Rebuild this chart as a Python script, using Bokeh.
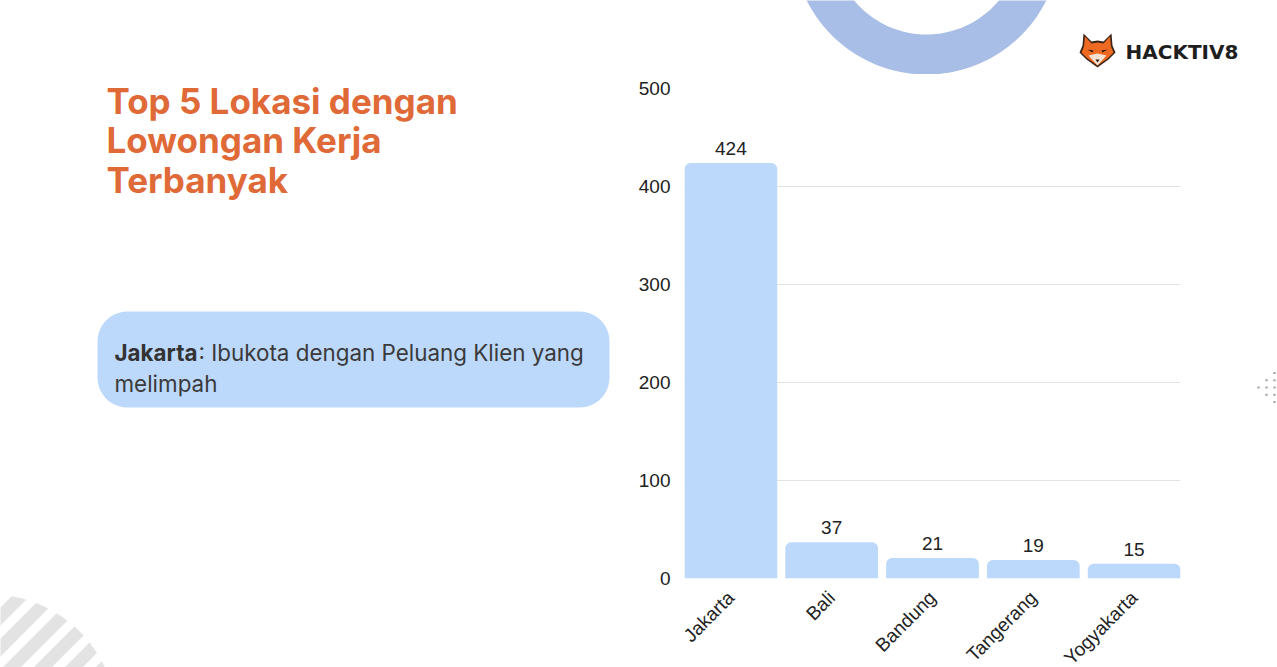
import numpy as np
from bokeh.plotting import figure
from bokeh.layouts import row, column
from bokeh.models import (Range1d, LinearAxis, FixedTicker, ColumnDataSource,
                          LabelSet, Grid)
from bokeh.core.properties import value
from bokeh.embed import file_html
from bokeh.resources import INLINE

# ---- data ----
categories = ["Jakarta", "Bali", "Bandung", "Tangerang", "Yogyakarta"]
values = [424, 37, 21, 19, 15]
y_ticks = [0, 100, 200, 300, 400, 500]
title_lines = ["Top 5 Lokasi dengan", "Lowongan Kerja", "Terbanyak"]
note_bold = "Jakarta"
note_line1 = ": Ibukota dengan Peluang Klien yang"
note_line2 = "melimpah"
brand = "HACKTIV8"

# ---- layout (pixels) ----
W, H = 1277, 667
SPLIT = 620          # left panel width
TOP = 74             # top strip height (right side)
DOTX = 1240          # start of dots strip
FL, FR, FT, FB = 684, 1180, 88, 578
BAR = "#BCD8FB"
ORANGE = "#DF6A38"


def blank(x0, x1, y0, y1):
    f = figure(width=x1 - x0, height=y1 - y0, x_range=Range1d(x0, x1),
               y_range=Range1d(y1, y0), min_border=0,
               x_axis_location=None, y_axis_location=None,
               output_backend="svg", toolbar_location=None)
    f.grid.visible = False
    f.outline_line_color = None
    f.background_fill_color = "white"
    f.border_fill_color = "white"
    return f


def poly(f, xs, ys, color):
    f.patch(list(map(float, xs)), list(map(float, ys)), fill_color=color,
            line_color=None)


def label(f, x, y, text, size, color, bold=False, font="Inter"):
    f.text(x=[x], y=[y], text=[text], text_font=value(font), text_font_size=size,
           text_font_style="bold" if bold else "normal", text_color=color,
           text_baseline="alphabetic", text_align="left")


# ================= left panel =================
left = blank(0, SPLIT, 0, H)

# striped quarter circle bottom-left
s2 = np.sqrt(2)
scx, scy, sR = -10, 720, 126
u0, v0 = (scx + scy) / s2, (scx - scy) / s2
for k in range(-1, 8):
    a, b = (607 + 31 * k) / s2, (625 + 31 * k) / s2
    a, b = max(a, u0 - sR), min(b, u0 + sR)
    if b <= a:
        continue
    us = np.linspace(a, b, 30)
    h = np.sqrt(np.maximum(sR ** 2 - (us - u0) ** 2, 0))
    U = np.concatenate([us, us[::-1]])
    V = np.concatenate([v0 + h, (v0 - h)[::-1]])
    poly(left, (U + V) / s2, (U - V) / s2, "#E3E3E3")

# rounded note box
bx0, bx1, by0, by1, r = 97, 609, 311, 407, 30
pts = []
for (ccx, ccy, a0) in [(bx1 - r, by0 + r, -np.pi / 2), (bx1 - r, by1 - r, 0),
                       (bx0 + r, by1 - r, np.pi / 2), (bx0 + r, by0 + r, np.pi)]:
    for a in np.linspace(a0, a0 + np.pi / 2, 12):
        pts.append((ccx + r * np.cos(a), ccy + r * np.sin(a)))
poly(left, [q[0] for q in pts], [q[1] for q in pts], BAR)

for i, line in enumerate(title_lines):
    label(left, 106, 100 + 39.5 * i, line, "35px", ORANGE, bold=True)

label(left, 114, 351.5, note_bold, "22.4px", "#333333", bold=True)
label(left, 198, 351.5, note_line1, "22.4px", "#3A3A3A")
label(left, 114, 382.5, note_line2, "22.4px", "#3A3A3A")

# ================= top strip (right) =================
top = blank(SPLIT, W, 0, TOP)
t = np.linspace(0, 2 * np.pi, 180)
cx, cy, ro, ri = 926, -60, 134, 94
xs = np.concatenate([cx + ro * np.cos(t), cx + ri * np.cos(t[::-1])])
ys = np.concatenate([cy + ro * np.sin(t), cy + ri * np.sin(t[::-1])])
poly(top, xs, ys, "#A9BEE7")

# fox logo
poly(top, [1083, 1091, 1097, 1103, 1111, 1112, 1115, 1108, 1097, 1086, 1079, 1082],
     [33, 41, 40, 41, 33, 45, 52, 59, 67, 59, 52, 45], "#3A2416")
poly(top, [1084.5, 1091, 1097, 1103, 1109.5, 1110.5, 1113, 1107, 1097, 1087, 1081, 1083.5],
     [36, 43, 42, 43, 36, 46, 52, 58, 65, 58, 52, 46], "#EE6A22")
poly(top, [1088, 1097, 1106, 1097], [55, 53, 55, 65], "#F6E2D2")
poly(top, [1087, 1093, 1092], [49, 50, 52], "#2A1A10")
poly(top, [1107, 1101, 1102], [49, 50, 52], "#2A1A10")
poly(top, [1095, 1099, 1097], [59, 59, 62], "#2A1A10")
label(top, 1125, 51, brand, "20px", "#1E1E1E", bold=True, font="DejaVu Sans")

# ================= chart =================
p = figure(frame_width=FR - FL, frame_height=FB - FT,
           min_border_left=FL - SPLIT, min_border_right=DOTX - FR,
           min_border_top=FT - TOP, min_border_bottom=H - FB,
           x_range=Range1d(-0.46, len(categories) - 1 + 0.46),
           y_range=Range1d(0, 500),
           x_axis_location=None, y_axis_location=None,
           output_backend="svg", toolbar_location=None)
p.outline_line_color = None
p.background_fill_color = "white"
p.border_fill_color = "white"

yaxis = LinearAxis(ticker=FixedTicker(ticks=y_ticks))
yaxis.axis_line_color = None
yaxis.major_tick_line_color = None
yaxis.minor_tick_line_color = None
yaxis.major_tick_out = 0
yaxis.major_label_standoff = 14
yaxis.major_label_text_font = "Liberation Sans"
yaxis.major_label_text_font_size = "19px"
yaxis.major_label_text_color = "#222222"
p.add_layout(yaxis, "left")

xpos = list(range(len(categories)))
xaxis = LinearAxis(ticker=FixedTicker(ticks=xpos),
                   major_label_overrides={i: c for i, c in enumerate(categories)})
xaxis.axis_line_color = None
xaxis.major_tick_line_color = None
xaxis.minor_tick_line_color = None
xaxis.major_tick_out = 0
xaxis.major_label_standoff = 16
xaxis.major_label_orientation = np.pi / 4
xaxis.major_label_text_font = "Liberation Sans"
xaxis.major_label_text_font_size = "19px"
xaxis.major_label_text_color = "#222222"
p.add_layout(xaxis, "below")

p.center = [Grid(dimension=1, ticker=yaxis.ticker,
                 grid_line_color="#e3e3e3", grid_line_width=1)]

src = ColumnDataSource(dict(x=xpos, top=values, label=[str(v) for v in values]))
p.vbar(x="x", top="top", width=0.92, source=src, fill_color=BAR,
       line_color=None, border_radius=(6, 6, 0, 0))
p.add_layout(LabelSet(x="x", y="top", text="label", source=src,
                      text_align="center", text_baseline="bottom", y_offset=8,
                      text_font=value("Liberation Sans"), text_font_size="19px",
                      text_color="#222222"))

# ================= dots strip =================
dots = blank(DOTX, W, TOP, H)
for dx, dy in [(1274, 427), (1266, 436), (1274, 436), (1258, 445), (1266, 445),
               (1274, 445), (1266, 454), (1274, 454), (1274, 463)]:
    poly(dots, [dx - 1.2, dx + 1.2, dx + 1.2, dx - 1.2],
         [dy - 1.2, dy - 1.2, dy + 1.2, dy + 1.2], "#A8A8A8")

layout = row(left, column(top, row(p, dots, spacing=0), spacing=0), spacing=0)
open("out.html", "w").write(file_html(layout, INLINE))
